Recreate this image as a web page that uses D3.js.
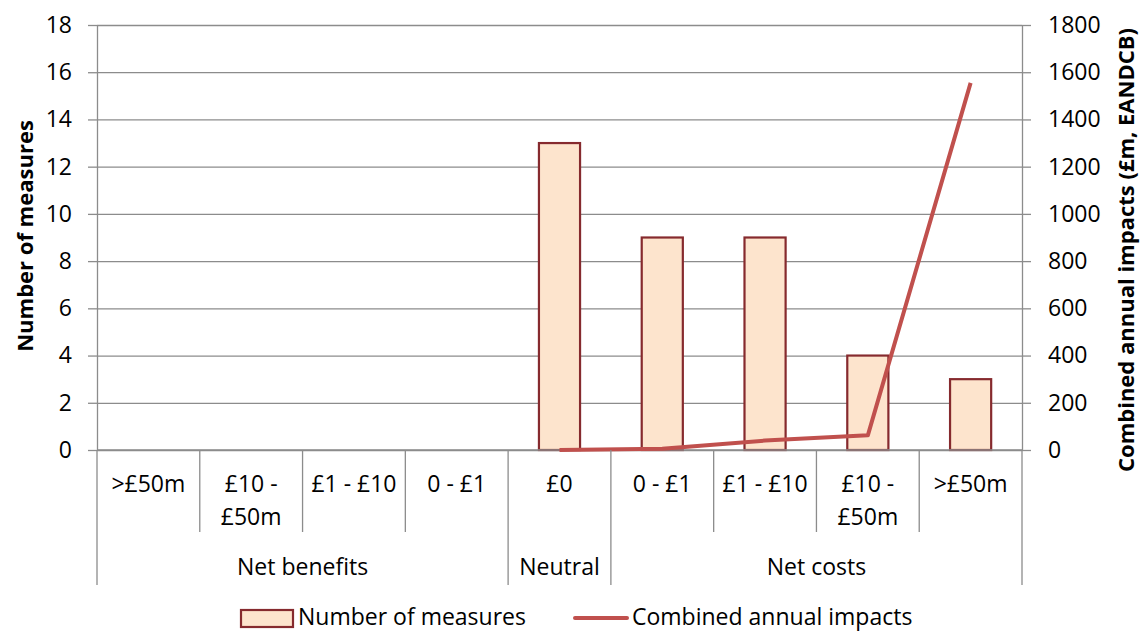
<!DOCTYPE html>
<html>
<head>
<meta charset="utf-8">
<script src="https://cdn.jsdelivr.net/npm/d3@7"></script>
<style>
  body { margin: 0; background: #fff; }
  svg { display: block; font-family: 'Open Sans', sans-serif; }
  .axis path, .axis line { stroke: #8c8c8c; }
  .axis text { font-size: 23px; fill: #000; font-family: 'Open Sans', sans-serif; }
</style>
</head>
<body>
<div class="chart"></div>
<script>
// categories (lines of each label), groups and series
const categories = [['>£50m'], ['£10 -', '£50m'], ['£1 - £10'], ['0 - £1'], ['£0'], ['0 - £1'], ['£1 - £10'], ['£10 -', '£50m'], ['>£50m']];
const groupNames = ['Net benefits', 'Neutral', 'Net costs'];
const groupSpans = [4, 1, 4];
const measures = [0, 0, 0, 0, 13, 9, 9, 4, 3];
const impacts = [null, null, null, null, 0, 5, 40, 62, 1555];
const leftTicks = [0, 2, 4, 6, 8, 10, 12, 14, 16, 18];
const rightTicks = [0, 200, 400, 600, 800, 1000, 1200, 1400, 1600, 1800];

const width = 1140;
const height = 631;
const margin = { top: 25, right: 118, bottom: 181, left: 97 };
const plotW = width - margin.left - margin.right;
const plotH = height - margin.top - margin.bottom;

const svg = d3
  .select('.chart')
  .append('svg')
  .attr('width', width)
  .attr('height', height);

const g = svg.append('g').attr('transform', 'translate(' + margin.left + ',' + margin.top + ')');

const x = d3.scaleBand().domain(d3.range(categories.length)).range([0, plotW]);
const yL = d3.scaleLinear().domain([0, 18]).range([plotH, 0]);
const yR = d3.scaleLinear().domain([0, 1800]).range([plotH, 0]);

// gridlines
g.append('g')
  .attr('class', 'axis grid')
  .call(d3.axisLeft(yL).tickValues(leftTicks).tickSize(-plotW).tickFormat(''))
  .call(s => s.select('.domain').remove())
  .selectAll('line')
  .attr('stroke-width', 1.3);

// left axis
g.append('g')
  .attr('class', 'axis')
  .call(d3.axisLeft(yL).tickValues(leftTicks).tickSize(9).tickSizeOuter(0).tickPadding(16))
  .call(s => s.selectAll('line, path').attr('stroke-width', 1.3));

// right axis
g.append('g')
  .attr('class', 'axis')
  .attr('transform', 'translate(' + plotW + ',0)')
  .call(d3.axisRight(yR).tickValues(rightTicks).tickFormat(d3.format('d')).tickSize(9).tickSizeOuter(0).tickPadding(17))
  .call(s => s.selectAll('line, path').attr('stroke-width', 1.3));

// bars
const barW = x.bandwidth() * 0.4;
g.selectAll('.bar')
  .data(measures.map((v, i) => ({ i, v })).filter(d => d.v > 0))
  .enter()
  .append('rect')
  .attr('class', 'bar')
  .attr('x', d => x(d.i) + (x.bandwidth() - barW) / 2)
  .attr('y', d => yL(d.v))
  .attr('width', barW)
  .attr('height', d => yL(0) - yL(d.v))
  .attr('fill', '#fde4cd')
  .attr('stroke', '#862a2e')
  .attr('stroke-width', 2.2);

// bottom baseline
g.append('line')
  .attr('x1', 0).attr('x2', plotW)
  .attr('y1', plotH).attr('y2', plotH)
  .attr('stroke', '#8c8c8c').attr('stroke-width', 1.3);

// line series
const line = d3
  .line()
  .defined(d => d.v !== null)
  .x(d => x(d.i) + x.bandwidth() / 2)
  .y(d => yR(d.v));

g.append('path')
  .datum(impacts.map((v, i) => ({ i, v })))
  .attr('fill', 'none')
  .attr('stroke', '#c0504d')
  .attr('stroke-width', 4)
  .attr('stroke-linejoin', 'round')
  .attr('d', line);

// multi-level category axis
const axisG = g.append('g').attr('transform', 'translate(0,' + plotH + ')');
const innerBottom = 82;
const outerBottom = 135;
const groupEdges = [0];
groupSpans.reduce((acc, s) => { groupEdges.push(acc + s); return acc + s; }, 0);

d3.range(categories.length + 1).forEach(k => {
  const xp = k < categories.length ? x(k) : plotW;
  axisG.append('line')
    .attr('x1', xp).attr('x2', xp)
    .attr('y1', 0)
    .attr('y2', groupEdges.includes(k) ? outerBottom : innerBottom)
    .attr('stroke', '#8c8c8c').attr('stroke-width', 1.3);
});

categories.forEach((lines, i) => {
  const t = axisG.append('text')
    .attr('x', x(i) + x.bandwidth() / 2)
    .attr('y', 42)
    .attr('text-anchor', 'middle')
    .attr('font-size', 23);
  lines.forEach((l, j) => t.append('tspan').attr('x', x(i) + x.bandwidth() / 2).attr('dy', j ? 33 : 0).text(l));
});

groupNames.forEach((name, gi) => {
  const x0 = x(groupEdges[gi]);
  const x1 = groupEdges[gi + 1] < categories.length ? x(groupEdges[gi + 1]) : plotW;
  axisG.append('text')
    .attr('x', (x0 + x1) / 2)
    .attr('y', 125)
    .attr('text-anchor', 'middle')
    .attr('font-size', 23)
    .text(name);
});

// axis titles
svg.append('text')
  .attr('transform', 'translate(33,' + 236 + ') rotate(-90)')
  .attr('text-anchor', 'middle')
  .attr('font-size', 22)
  .attr('font-weight', 'bold')
  .text('Number of measures');

svg.append('text')
  .attr('transform', 'translate(1134,' + 250 + ') rotate(-90)')
  .attr('text-anchor', 'middle')
  .attr('font-size', 22)
  .attr('font-weight', 'bold')
  .text('Combined annual impacts (£m, EANDCB)');

// legend
const legend = svg.append('g').attr('transform', 'translate(0,618)');
legend.append('rect')
  .attr('x', 241).attr('y', -8)
  .attr('width', 52).attr('height', 17)
  .attr('fill', '#fde4cd').attr('stroke', '#862a2e').attr('stroke-width', 2.2);
legend.append('text').attr('x', 298).attr('y', 7).attr('font-size', 23).text('Number of measures');
legend.append('line')
  .attr('x1', 575).attr('x2', 627).attr('y1', 0).attr('y2', 0)
  .attr('stroke', '#c0504d').attr('stroke-width', 4).attr('stroke-linecap', 'round');
legend.append('text').attr('x', 632).attr('y', 7).attr('font-size', 23).text('Combined annual impacts');
</script>
</body>
</html>
